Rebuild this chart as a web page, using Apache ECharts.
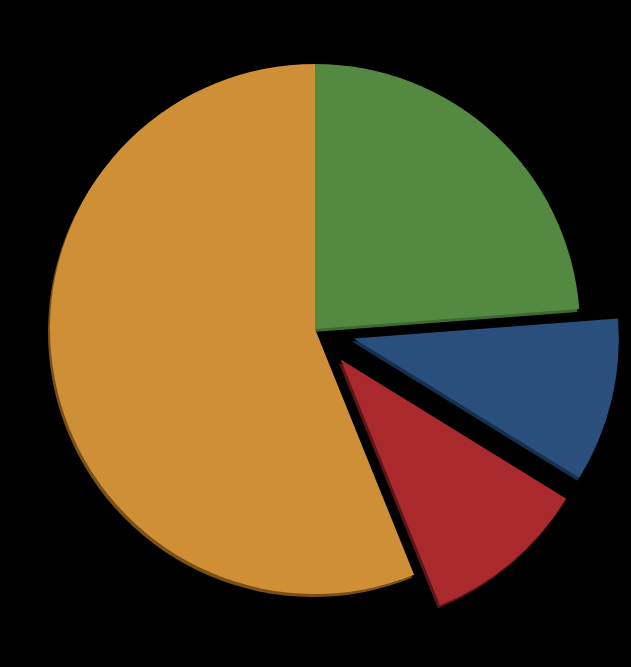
<!DOCTYPE html>
<html>
<head>
<meta charset="utf-8">
<script src="https://cdn.jsdelivr.net/npm/echarts@6/dist/echarts.min.js"></script>
<style>
  html, body { margin: 0; padding: 0; background: #000; }
  #chart { width: 631px; height: 667px; }
</style>
</head>
<body>
<div id="chart"></div>
<script>
// slices, clockwise from 12 o'clock
var names = ['A', 'B', 'C', 'D'];
var values = [23.8, 10, 10.1, 56.1];
var colors = ['#548941', '#2a4f7d', '#a9292d', '#cf8f37'];
var edgeColors = ['#3d6a2e', '#16304f', '#5e1518', '#7a5018'];
var exploded = [false, true, true, false];

var chart = echarts.init(document.getElementById('chart'));

var data = values.map(function (v, i) {
  return {
    name: names[i],
    value: v,
    selected: exploded[i],
    itemStyle: {
      color: colors[i],
      shadowColor: edgeColors[i],
      shadowBlur: 0,
      shadowOffsetX: -2,
      shadowOffsetY: 3
    }
  };
});

var option = {
  backgroundColor: '#000',
  animation: false,
  series: [{
    type: 'pie',
    center: [315, 329],
    radius: [0, 265],
    startAngle: 90,
    clockwise: true,
    selectedMode: 'multiple',
    selectedOffset: 40,
    label: { show: false },
    labelLine: { show: false },
    emphasis: { disabled: true },
    itemStyle: { borderWidth: 0 },
    data: data
  }]
};
chart.setOption(option);
</script>
</body>
</html>
